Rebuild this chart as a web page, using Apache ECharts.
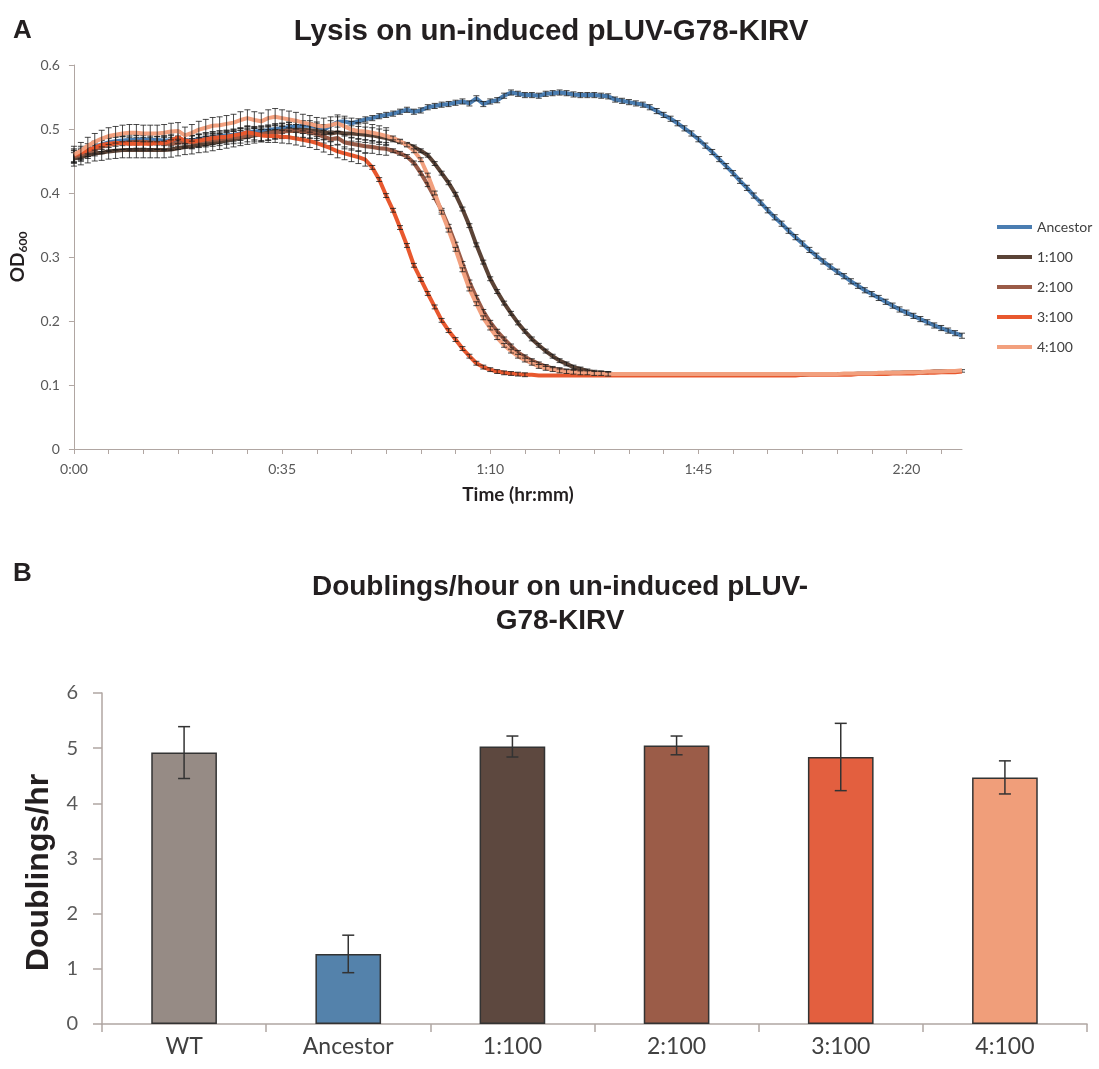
<!DOCTYPE html>
<html><head><meta charset="utf-8">
<script src="https://cdn.jsdelivr.net/npm/echarts@6/dist/echarts.min.js"></script>
<style>html,body{margin:0;padding:0;background:#fff}#c{width:1099px;height:1069px}</style>
</head><body><div id="c"></div>
<script>
// ---- Panel A data (OD600 readings, one every 70 s) ----
const stepSeconds = 70;
const pointCount = 129;
const lysisSeriesNames = ['Ancestor', '1:100', '2:100', '3:100', '4:100'];

const odAncestor = [
0.455,0.458,0.465,0.472,0.476,0.479,0.481,0.482,0.483,0.483,
0.484,0.483,0.483,0.482,0.482,0.481,0.483,0.482,0.484,0.486,
0.487,0.489,0.490,0.491,0.493,0.495,0.496,0.497,0.498,0.500,
0.501,0.503,0.504,0.505,0.505,0.503,0.499,0.505,0.511,0.512,
0.509,0.512,0.515,0.517,0.520,0.522,0.524,0.527,0.530,0.527,
0.529,0.534,0.536,0.538,0.539,0.541,0.543,0.540,0.548,0.539,
0.543,0.545,0.552,0.557,0.555,0.553,0.553,0.552,0.555,0.556,
0.557,0.556,0.554,0.553,0.553,0.553,0.552,0.551,0.546,0.544,
0.542,0.540,0.538,0.534,0.528,0.522,0.516,0.509,0.501,0.493,
0.484,0.474,0.464,0.453,0.442,0.431,0.419,0.408,0.396,0.385,
0.373,0.362,0.352,0.341,0.331,0.321,0.311,0.302,0.293,0.285,
0.277,0.270,0.262,0.255,0.248,0.242,0.236,0.230,0.224,0.218,
0.213,0.208,0.203,0.198,0.193,0.189,0.185,0.181,0.177];

const od1to100 = [
0.454,0.456,0.459,0.462,0.463,0.465,0.466,0.467,0.467,0.467,
0.467,0.467,0.467,0.467,0.468,0.470,0.472,0.473,0.475,0.476,
0.478,0.480,0.482,0.484,0.486,0.488,0.490,0.492,0.494,0.496,
0.497,0.498,0.499,0.499,0.498,0.497,0.495,0.493,0.495,0.493,
0.493,0.492,0.491,0.490,0.488,0.486,0.483,0.480,0.476,0.472,
0.466,0.459,0.446,0.431,0.416,0.398,0.375,0.349,0.319,0.292,
0.266,0.246,0.228,0.212,0.197,0.184,0.172,0.162,0.153,0.145,
0.138,0.133,0.128,0.125,0.122,0.120,0.119,0.118,0.117,0.117,
0.117,0.117,0.117,0.117,0.117,0.117,0.117,0.117,0.117,0.117,
0.116,0.116,0.116,0.116,0.116,0.116,0.116,0.116,0.116,0.116,
0.116,0.116,0.116,0.116,0.116,0.116,0.117,0.117,0.117,0.117,
0.117,0.117,0.117,0.117,0.117,0.117,0.118,0.118,0.119,0.119,
0.119,0.120,0.120,0.120,0.121,0.121,0.121,0.122,0.122];

const od2to100 = [
0.457,0.460,0.464,0.468,0.472,0.475,0.477,0.478,0.479,0.480,
0.480,0.479,0.478,0.477,0.477,0.478,0.480,0.479,0.481,0.482,
0.483,0.484,0.486,0.487,0.488,0.490,0.491,0.492,0.493,0.495,
0.496,0.497,0.497,0.496,0.495,0.492,0.488,0.484,0.486,0.479,
0.477,0.475,0.473,0.472,0.470,0.469,0.466,0.462,0.457,0.447,
0.431,0.413,0.393,0.373,0.348,0.320,0.290,0.261,0.237,0.215,
0.198,0.184,0.172,0.161,0.151,0.144,0.138,0.133,0.129,0.126,
0.124,0.122,0.121,0.120,0.119,0.118,0.118,0.117,0.117,0.117,
0.117,0.117,0.117,0.117,0.117,0.117,0.117,0.117,0.117,0.117,
0.116,0.116,0.116,0.116,0.116,0.116,0.116,0.116,0.116,0.116,
0.116,0.116,0.116,0.117,0.117,0.117,0.117,0.117,0.117,0.117,
0.117,0.117,0.117,0.118,0.118,0.118,0.118,0.119,0.119,0.119,
0.120,0.120,0.120,0.120,0.121,0.121,0.121,0.121,0.122];

const od3to100 = [
0.459,0.463,0.467,0.471,0.475,0.477,0.478,0.478,0.477,0.477,
0.477,0.477,0.478,0.478,0.482,0.487,0.482,0.480,0.482,0.484,
0.486,0.487,0.488,0.490,0.492,0.495,0.493,0.490,0.489,0.489,
0.488,0.487,0.485,0.483,0.481,0.478,0.474,0.470,0.465,0.462,
0.459,0.456,0.452,0.440,0.421,0.396,0.373,0.346,0.318,0.287,
0.265,0.243,0.222,0.201,0.185,0.171,0.157,0.145,0.134,0.128,
0.124,0.121,0.119,0.118,0.117,0.116,0.116,0.115,0.115,0.115,
0.115,0.115,0.115,0.115,0.115,0.115,0.115,0.115,0.115,0.115,
0.115,0.115,0.115,0.115,0.115,0.115,0.115,0.115,0.115,0.115,
0.115,0.115,0.115,0.115,0.115,0.115,0.115,0.115,0.115,0.115,
0.115,0.115,0.115,0.115,0.115,0.116,0.116,0.116,0.116,0.116,
0.116,0.116,0.116,0.117,0.117,0.117,0.117,0.117,0.118,0.118,
0.118,0.118,0.119,0.119,0.119,0.120,0.120,0.120,0.121];

const od4to100 = [
0.460,0.466,0.474,0.480,0.485,0.489,0.491,0.493,0.494,0.494,
0.493,0.493,0.493,0.494,0.496,0.497,0.490,0.494,0.499,0.502,
0.505,0.506,0.508,0.510,0.514,0.517,0.514,0.512,0.517,0.519,
0.517,0.515,0.513,0.510,0.508,0.505,0.504,0.506,0.509,0.504,
0.499,0.497,0.496,0.494,0.492,0.489,0.486,0.481,0.475,0.466,
0.452,0.428,0.400,0.370,0.342,0.312,0.280,0.250,0.227,0.205,
0.189,0.174,0.162,0.153,0.145,0.139,0.134,0.129,0.126,0.124,
0.122,0.121,0.120,0.119,0.119,0.118,0.118,0.117,0.117,0.117,
0.117,0.117,0.117,0.117,0.117,0.117,0.117,0.117,0.117,0.117,
0.117,0.117,0.117,0.117,0.117,0.117,0.117,0.117,0.117,0.117,
0.117,0.117,0.117,0.117,0.117,0.117,0.117,0.117,0.117,0.117,
0.117,0.118,0.118,0.118,0.118,0.118,0.119,0.119,0.119,0.119,
0.120,0.120,0.120,0.121,0.121,0.121,0.122,0.122,0.123];

// error bar half-heights (OD units); 0 = bar too small to see
const errAncestor = [
0.008,0.008,0.008,0.008,0.008,0.008,0.008,0.008,0.008,0.008,
0.008,0.008,0.008,0.008,0.008,0.008,0.008,0.008,0.008,0.008,
0.008,0.008,0.008,0.008,0.008,0.008,0.008,0.008,0.008,0.008,
0.008,0.008,0.008,0.008,0.008,0.008,0.008,0.008,0.008,0.008,
0.008,0.004,0.004,0.004,0.004,0.004,0.004,0.004,0.004,0.004,
0.004,0.004,0.004,0.004,0.004,0.004,0.004,0.004,0.004,0.004,
0.004,0.004,0.004,0.004,0.004,0.004,0.004,0.004,0.004,0.004,
0.004,0.004,0.004,0.004,0.004,0.004,0.004,0.004,0.004,0.004,
0.004,0.004,0.004,0.004,0.004,0.004,0.004,0.004,0.004,0.004,
0.004,0.004,0.004,0.004,0.004,0.004,0.004,0.004,0.004,0.004,
0.004,0.004,0.004,0.004,0.004,0.004,0.004,0.004,0.004,0.004,
0.004,0.004,0.004,0.004,0.004,0.004,0.004,0.004,0.004,0.004,
0.004,0.004,0.004,0.004,0.004,0.004,0.004,0.004,0.004];
const err1to100 = [
0.012,0.012,0.012,0.012,0.012,0.012,0.012,0.012,0.012,0.012,
0.012,0.012,0.012,0.012,0.012,0.012,0.012,0.012,0.012,0.012,
0.012,0.012,0.012,0.012,0.012,0.012,0.012,0.012,0.012,0.012,
0.012,0.012,0.012,0.012,0.012,0.012,0.012,0.012,0.012,0.012,
0.012,0.012,0.012,0.012,0.012,0.012,0.003,0.003,0.003,0.003,
0.003,0.003,0.003,0.003,0.003,0.003,0.003,0.003,0.003,0.003,
0.003,0.003,0.003,0.003,0.003,0.003,0.003,0.003,0.003,0.003,
0.003,0.003,0.003,0.003,0.003,0.003,0.003,0.003,0,0,
0,0,0,0,0,0,0,0,0,0,
0,0,0,0,0,0,0,0,0,0,
0,0,0,0,0,0,0,0,0,0,
0,0,0,0,0,0,0,0,0,0,
0,0,0,0,0,0,0,0,0.002];
const err2to100 = [
0.010,0.010,0.010,0.010,0.010,0.010,0.010,0.010,0.010,0.010,
0.010,0.010,0.010,0.010,0.010,0.010,0.010,0.010,0.010,0.010,
0.010,0.010,0.010,0.010,0.010,0.010,0.010,0.010,0.010,0.010,
0.010,0.010,0.010,0.010,0.010,0.010,0.010,0.010,0.010,0.010,
0.010,0.010,0.010,0.010,0.010,0.010,0.003,0.003,0.003,0.003,
0.003,0.003,0.003,0.003,0.003,0.003,0.003,0.003,0.003,0.003,
0.003,0.003,0.003,0.003,0.003,0.003,0.003,0.003,0.003,0.003,
0.003,0.003,0.003,0.003,0.003,0.003,0.003,0.003,0,0,
0,0,0,0,0,0,0,0,0,0,
0,0,0,0,0,0,0,0,0,0,
0,0,0,0,0,0,0,0,0,0,
0,0,0,0,0,0,0,0,0,0,
0,0,0,0,0,0,0,0,0];
const err3to100 = [
0.010,0.010,0.010,0.010,0.010,0.010,0.010,0.010,0.010,0.010,
0.010,0.010,0.010,0.010,0.010,0.010,0.010,0.010,0.010,0.010,
0.010,0.010,0.010,0.010,0.010,0.010,0.010,0.010,0.010,0.010,
0.010,0.010,0.010,0.010,0.010,0.010,0.010,0.010,0.010,0.010,
0.010,0.010,0.010,0.003,0.003,0.003,0.003,0.003,0.003,0.003,
0.003,0.003,0.003,0.003,0.003,0.003,0.003,0.003,0.003,0.003,
0.003,0.003,0.003,0.003,0.003,0.003,0,0,0,0,
0,0,0,0,0,0,0,0,0,0,
0,0,0,0,0,0,0,0,0,0,
0,0,0,0,0,0,0,0,0,0,
0,0,0,0,0,0,0,0,0,0,
0,0,0,0,0,0,0,0,0,0,
0,0,0,0,0,0,0,0,0];
const err4to100 = [
0.013,0.013,0.013,0.013,0.013,0.013,0.013,0.013,0.013,0.013,
0.013,0.013,0.013,0.013,0.013,0.013,0.013,0.013,0.013,0.013,
0.013,0.013,0.013,0.013,0.013,0.013,0.013,0.013,0.013,0.013,
0.013,0.013,0.013,0.013,0.013,0.013,0.013,0.013,0.013,0.013,
0.013,0.013,0.013,0.013,0.013,0.013,0.003,0.003,0.003,0.003,
0.003,0.003,0.003,0.003,0.003,0.003,0.003,0.003,0.003,0.003,
0.003,0.003,0.003,0.003,0.003,0.003,0.003,0.003,0.003,0.003,
0.003,0.003,0.003,0.003,0.003,0.003,0.003,0.003,0,0,
0,0,0,0,0,0,0,0,0,0,
0,0,0,0,0,0,0,0,0,0,
0,0,0,0,0,0,0,0,0,0,
0,0,0,0,0,0,0,0,0,0,
0,0,0,0,0,0,0,0,0];

// ---- Panel B data ----
const strainCategories = ['WT', 'Ancestor', '1:100', '2:100', '3:100', '4:100'];
const doublingsPerHour = [4.92, 1.27, 5.03, 5.05, 4.84, 4.47];
const doublingsErr = [0.47, 0.34, 0.19, 0.17, 0.61, 0.30];

// ---- styling ----
const lineColors = ['#4A7DB1', '#5B4336', '#9A5B47', '#E8582E', '#F2A07E'];
const barColors = ['#968B85', '#5482AB', '#5D483F', '#9B5C48', '#E35F3F', '#F09E7A'];
const axisGray = '#B0A6A2';
const labelFont = 'Lato, "Open Sans", sans-serif';
const boldFont = '"Liberation Sans", Arial, sans-serif';

function pad2(n) { return (n < 10 ? '0' : '') + n; }
const timeCategories = [];
for (let i = 0; i < pointCount; i++) {
  const s = i * stepSeconds;
  timeCategories.push(Math.floor(s / 3600) + ':' + pad2(Math.floor((s % 3600) / 60)));
}

function errorSeries(vals, errs, xIdx, yIdx, capW, lw, color, z) {
  return {
    type: 'custom', xAxisIndex: xIdx, yAxisIndex: yIdx, silent: true, z: z,
    data: vals.map((v, i) => [i, v - errs[i], v + errs[i]]),
    encode: { x: 0, y: [1, 2] },
    renderItem: function (params, api) {
      if (api.value(2) - api.value(1) <= 0) return null;
      const lo = api.coord([api.value(0), api.value(1)]);
      const hi = api.coord([api.value(0), api.value(2)]);
      const h = capW / 2;
      const st = { stroke: color, lineWidth: lw };
      return { type: 'group', children: [
        { type: 'line', shape: { x1: lo[0], y1: lo[1], x2: hi[0], y2: hi[1] }, style: st },
        { type: 'line', shape: { x1: lo[0] - h, y1: lo[1], x2: lo[0] + h, y2: lo[1] }, style: st },
        { type: 'line', shape: { x1: hi[0] - h, y1: hi[1], x2: hi[0] + h, y2: hi[1] }, style: st }
      ]};
    }
  };
}

const lysisData = [odAncestor, od1to100, od2to100, od3to100, od4to100];
const lysisErr = [errAncestor, err1to100, err2to100, err3to100, err4to100];

const series = [];
lysisData.forEach((d, k) => {
  series.push({
    type: 'line', name: lysisSeriesNames[k], xAxisIndex: 0, yAxisIndex: 0,
    data: d, showSymbol: false, color: lineColors[k], z: 2 + k * 2,
    lineStyle: { width: 4, color: lineColors[k] }
  });
  series.push(errorSeries(d, lysisErr[k], 0, 0, 6, 0.8, '#1a1a1a', 3 + k * 2));
});
series.push({
  type: 'bar', xAxisIndex: 1, yAxisIndex: 1, barWidth: '40%',
  data: doublingsPerHour.map((v, i) => ({ value: v, itemStyle: { color: barColors[i] } })),
  itemStyle: { borderColor: '#333', borderWidth: 1.5 }
});
series.push(errorSeries(doublingsPerHour, doublingsErr, 1, 1, 12, 1.5, '#333', 20));

const chart = echarts.init(document.getElementById('c'), null, { renderer: 'canvas' });
chart.setOption({
  animation: false,
  backgroundColor: '#fff',
  title: [
    { text: 'A', left: 13, top: 18, padding: 0, textStyle: { fontSize: 26, fontWeight: 'bold', fontFamily: boldFont, color: '#231F20' } },
    { text: 'Lysis on un-induced pLUV-G78-KIRV', left: 551, top: 17, padding: 0, textAlign: 'center',
      textStyle: { fontSize: 29.5, fontWeight: 'bold', fontFamily: boldFont, color: '#231F20' } },
    { text: 'B', left: 13, top: 561, padding: 0, textStyle: { fontSize: 26, fontWeight: 'bold', fontFamily: boldFont, color: '#231F20' } },
    { text: 'Doublings/hour on un-induced pLUV-\nG78-KIRV', left: 560, top: 570, padding: 0, textAlign: 'center',
      textStyle: { fontSize: 28, fontWeight: 'bold', fontFamily: boldFont, color: '#231F20', lineHeight: 34 } }
  ],
  legend: {
    orient: 'vertical', left: 997, top: 220, itemWidth: 35, itemHeight: 4, itemGap: 16, icon: 'rect',
    data: lysisSeriesNames, padding: 0,
    textStyle: { fontSize: 14, color: '#404040', fontFamily: labelFont }
  },
  grid: [
    { left: 73, top: 65, width: 889, height: 384, containLabel: false },
    { left: 102, top: 693, width: 985, height: 331, containLabel: false }
  ],
  xAxis: [
    { type: 'category', gridIndex: 0, data: timeCategories, boundaryGap: false,
      name: 'Time (hr:mm)', nameLocation: 'middle', nameGap: 36,
      nameTextStyle: { fontSize: 19, fontWeight: 'bold', fontFamily: labelFont, color: '#231F20' },
      axisLine: { show: true, lineStyle: { color: axisGray, width: 1 } },
      axisTick: { show: true, interval: 4, length: 5, lineStyle: { color: axisGray } },
      axisLabel: { interval: 29, fontSize: 14, color: '#595959', fontFamily: labelFont, margin: 13 },
      splitLine: { show: false } },
    { type: 'category', gridIndex: 1, data: strainCategories, boundaryGap: true,
      axisLine: { show: true, lineStyle: { color: axisGray, width: 1.5 } },
      axisTick: { show: true, length: 8, lineStyle: { color: axisGray, width: 1.5 } },
      axisLabel: { fontSize: 23, color: '#404040', fontFamily: labelFont, margin: 11 },
      splitLine: { show: false } }
  ],
  yAxis: [
    { type: 'value', gridIndex: 0, min: 0, max: 0.6, interval: 0.1,
      name: '{a|OD}{b|600}', nameLocation: 'middle', nameGap: 38, nameRotate: 90,
      nameTextStyle: { rich: {
        a: { fontSize: 19, fontWeight: 'bold', fontFamily: labelFont, color: '#231F20', lineHeight: 24, verticalAlign: 'middle' },
        b: { fontSize: 12, fontWeight: 'bold', fontFamily: labelFont, color: '#231F20', lineHeight: 24, verticalAlign: 'bottom' } } },
      axisLine: { show: true, lineStyle: { color: axisGray, width: 1 } },
      axisTick: { show: true, length: 5, lineStyle: { color: axisGray } },
      axisLabel: { fontSize: 14, color: '#595959', fontFamily: labelFont, margin: 14 },
      splitLine: { show: false } },
    { type: 'value', gridIndex: 1, min: 0, max: 6, interval: 1,
      name: 'Doublings/hr', nameLocation: 'middle', nameGap: 47, nameRotate: 90,
      nameTextStyle: { fontSize: 32, fontWeight: 'bold', fontFamily: boldFont, color: '#231F20', padding: [0, 28, 0, 0] },
      axisLine: { show: true, lineStyle: { color: axisGray, width: 1.5 } },
      axisTick: { show: true, length: 9, lineStyle: { color: axisGray, width: 1.5 } },
      axisLabel: { fontSize: 20, color: '#595959', fontFamily: labelFont, margin: 24 },
      splitLine: { show: false } }
  ],
  series: series
});
</script></body></html>
